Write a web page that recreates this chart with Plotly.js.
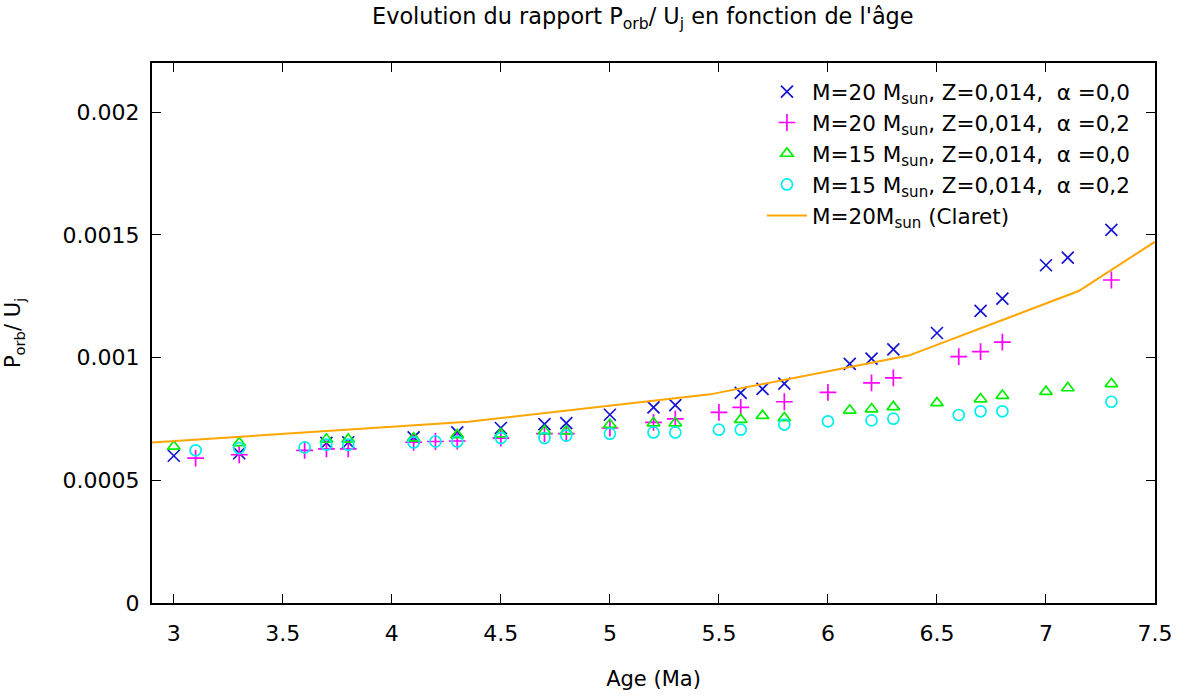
<!DOCTYPE html>
<html>
<head>
<meta charset="utf-8">
<script src="https://cdn.plot.ly/plotly-3.0.1.min.js"></script>
<style>html,body{margin:0;padding:0;background:#fff;}#chart{width:1186px;height:696px;}</style>
</head>
<body>
<div id="chart"></div>
<script>
// Ages (Ma)
const agesA = [3.0,3.3,3.7,3.8,4.1,4.3,4.5,4.7,4.8,5.0,5.2,5.3,5.6,5.7,5.8,6.1,6.2,6.3,6.5,6.7,6.8,7.0,7.1,7.3];
const agesB = [3.1,3.3,3.6,3.7,3.8,4.1,4.2,4.3,4.5,4.7,4.8,5.0,5.2,5.3,5.5,5.6,5.8,6.0,6.2,6.3,6.6,6.7,6.8,7.3];
// M=20 Msun, alpha=0.0
const m20a00 = [0.000600,0.000610,0.000652,0.000655,0.000675,0.000695,0.000713,0.000729,0.000733,0.000767,0.000797,0.000806,0.000856,0.000872,0.000894,0.000974,0.000996,0.001033,0.001100,0.001190,0.001240,0.001376,0.001407,0.001520];
// M=20 Msun, alpha=0.2
const m20a02 = [0.000590,0.000604,0.000622,0.000628,0.000628,0.000655,0.000658,0.000660,0.000672,0.000690,0.000690,0.000713,0.000736,0.000750,0.000777,0.000797,0.000820,0.000858,0.000897,0.000917,0.001004,0.001024,0.001063,0.001316];
// M=15 Msun, alpha=0.0
const m15a00 = [0.000638,0.000652,0.000667,0.000667,0.000672,0.000685,0.000688,0.000700,0.000700,0.000727,0.000733,0.000733,0.000747,0.000763,0.000754,0.000785,0.000790,0.000799,0.000815,0.000831,0.000845,0.000861,0.000876,0.000893];
// M=15 Msun, alpha=0.2
const m15a02 = [0.000622,0.000631,0.000634,0.000645,0.000645,0.000654,0.000658,0.000658,0.000672,0.000672,0.000682,0.000690,0.000695,0.000695,0.000706,0.000706,0.000727,0.000740,0.000744,0.000751,0.000766,0.000781,0.000781,0.000820];
// Claret M=20 Msun
const claretAge = [2.9,4.35,5.46,6.37,7.15,7.5];
const claretVal = [0.000654,0.000738,0.000850,0.001008,0.001271,0.001472];

const xTicks = [3,3.5,4,4.5,5,5.5,6,6.5,7,7.5];
const xTickText = ["3","3.5","4","4.5","5","5.5","6","6.5","7","7.5"];
const yTicks = [0,0.0005,0.001,0.0015,0.002];
const yTickText = ["0","0.0005","0.001","0.0015","0.002"];

const names = [
  "M=20 M<sub>sun</sub>, Z=0,014,  α =0,0",
  "M=20 M<sub>sun</sub>, Z=0,014,  α =0,2",
  "M=15 M<sub>sun</sub>, Z=0,014,  α =0,0",
  "M=15 M<sub>sun</sub>, Z=0,014,  α =0,2",
  "M=20M<sub>sun</sub> (Claret)"
];

const FONT = "DejaVu Sans";

const traces = [
  {x: agesA, y: m20a00, name: names[0], mode: "markers", type: "scatter",
   marker: {symbol: "x-thin-open", size: 12, color: "#1414d2", line: {width: 1.7, color: "#1414d2"}}},
  {x: agesB, y: m20a02, name: names[1], mode: "markers", type: "scatter",
   marker: {symbol: "cross-thin-open", size: 12, color: "#ff00ff", line: {width: 1.7, color: "#ff00ff"}}},
  {x: agesA, y: m15a00, name: names[2], mode: "markers", type: "scatter",
   marker: {symbol: "triangle-up-open", size: 11, color: "#00ee00", line: {width: 1.7, color: "#00ee00"}}},
  {x: agesB, y: m15a02, name: names[3], mode: "markers", type: "scatter",
   marker: {symbol: "circle-open", size: 11, color: "#00eeee", line: {width: 1.7, color: "#00eeee"}}},
  {x: claretAge, y: claretVal, name: names[4], mode: "lines", type: "scatter",
   line: {color: "#ffa500", width: 2}}
];

const layout = {
  width: 1186, height: 696,
  margin: {l: 152, r: 31, t: 63, b: 93},
  paper_bgcolor: "#ffffff", plot_bgcolor: "#ffffff",
  font: {family: FONT, size: 21, color: "#000"},
  title: {text: "Evolution du rapport P<sub>orb</sub>/ U<sub>j</sub> en fonction de l'âge",
          x: 0.542, xanchor: "center", y: 0.988, yanchor: "top", font: {family: FONT, size: 22.4, color: "#000"}},
  xaxis: {range: [2.9, 7.5], tickvals: xTicks, ticktext: xTickText,
          tickfont: {family: FONT, size: 22, color: "#000"}, ticklabelstandoff: 10,
          ticks: "inside", ticklen: 9, tickwidth: 1, tickcolor: "#000",
          showline: true, linecolor: "#000", linewidth: 2, mirror: "allticks",
          showgrid: false, zeroline: false,
          title: {text: "Age (Ma)", standoff: 26, font: {family: FONT, size: 21, color: "#000"}}},
  yaxis: {range: [0, 0.0022], tickvals: yTicks, ticktext: yTickText,
          tickfont: {family: FONT, size: 22, color: "#000"}, ticklabelstandoff: 6,
          ticks: "inside", ticklen: 9, tickwidth: 1, tickcolor: "#000",
          showline: true, linecolor: "#000", linewidth: 2, mirror: "allticks",
          showgrid: false, zeroline: false,
          title: {text: "P<sub>orb</sub>/ U<sub>j</sub>", standoff: 36, font: {family: FONT, size: 21, color: "#000"}}},
  legend: {x: 0.98, xanchor: "right", y: 0.985, yanchor: "top",
           bgcolor: "rgba(0,0,0,0)", borderwidth: 0,
           font: {family: FONT, size: 21.5, color: "#000"}, itemwidth: 40},
  showlegend: true
};

Plotly.newPlot("chart", traces, layout, {displayModeBar: false, staticPlot: true});
</script>
</body>
</html>
